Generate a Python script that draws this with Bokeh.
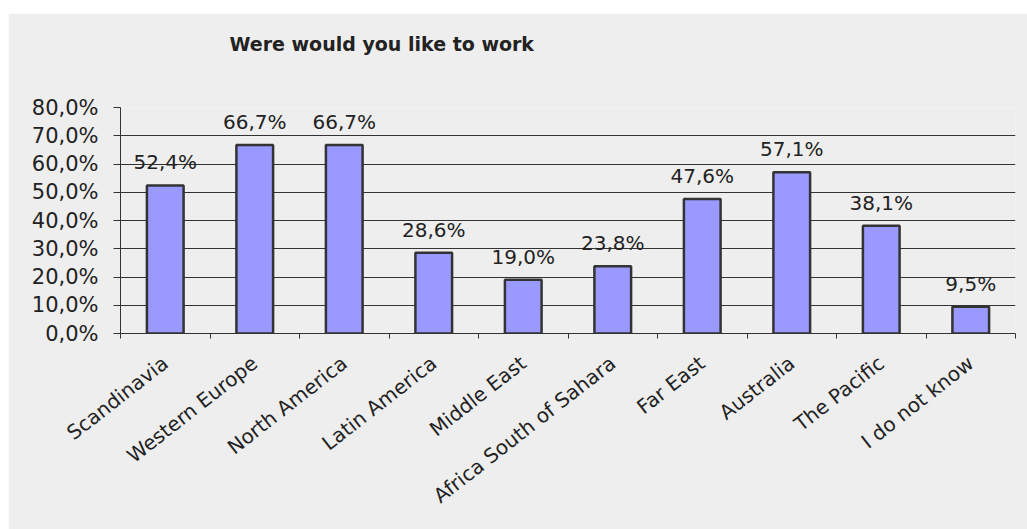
from bokeh.plotting import figure
from bokeh.models import Range1d, FixedTicker, ColumnDataSource, Spacer, Title
from bokeh.layouts import column, row
from bokeh.embed import file_html
from bokeh.resources import INLINE
from bokeh.core.properties import value

# ---- data ----
categories = ["Scandinavia", "Western Europe", "North America", "Latin America",
              "Middle East", "Africa South of Sahara", "Far East", "Australia",
              "The Pacific", "I do not know"]
shares = [52.4, 66.7, 66.7, 28.6, 19.0, 23.8, 47.6, 57.1, 38.1, 9.5]
y_ticks = [0, 10, 20, 30, 40, 50, 60, 70, 80]
y_tick_labels = ["0,0%", "10,0%", "20,0%", "30,0%", "40,0%", "50,0%", "60,0%", "70,0%", "80,0%"]
title_text = "Were would you like to work"

FONT = "DejaVu Sans"
DARK = "#333333"
TXT = "#222222"
BG = "#eeeeee"

xs = [i + 0.5 for i in range(len(categories))]
labels = [f"{v:.1f}".replace(".", ",") + "%" for v in shares]
src = ColumnDataSource(dict(x=xs, top=shares, lab=labels))

fig = figure(width=1019, height=516, output_backend="svg", toolbar_location=None,
             title=None,
             x_range=Range1d(0, len(categories)), y_range=Range1d(0, 80),
             min_border_left=112, min_border_right=12, min_border_top=94, min_border_bottom=196)
fig.background_fill_color = BG
fig.border_fill_color = BG
fig.outline_line_color = None

# spacing panel between the frame and the chart title
fig.add_layout(Title(text=" ", text_font_size="1px", standoff=50), "above")
fig.add_layout(Title(text=title_text, align="left", offset=109, standoff=0,
                     text_font=FONT, text_font_size="19px", text_font_style="bold",
                     text_color=TXT), "above")

fig.vbar(x="x", top="top", width=0.41, source=src, fill_color="#9999ff",
         line_color=DARK, line_width=2.5)
fig.text(x="x", y="top", text="lab", source=src, text_align="center",
         text_baseline="alphabetic", y_offset=-23, text_font=value(FONT),
         text_font_size="20px", text_color=TXT)

# y axis
fig.yaxis.ticker = FixedTicker(ticks=y_ticks)
fig.yaxis.major_label_overrides = {t: l for t, l in zip(y_ticks, y_tick_labels)}
fig.yaxis.major_label_text_font = FONT
fig.yaxis.major_label_text_font_size = "21px"
fig.yaxis.major_label_text_color = TXT
fig.yaxis.major_tick_out = 7
fig.yaxis.major_tick_in = 0
fig.yaxis.minor_tick_line_color = None
fig.yaxis.major_label_standoff = 15
fig.yaxis.axis_line_color = DARK
fig.yaxis.major_tick_line_color = DARK

fig.ygrid.ticker = FixedTicker(ticks=y_ticks)
fig.ygrid.grid_line_color = DARK
fig.ygrid.grid_line_width = 1
fig.xgrid.grid_line_color = None

# x axis: labels at category centres, tick marks at category boundaries
fig.xaxis.ticker = FixedTicker(ticks=xs, minor_ticks=list(range(len(categories) + 1)))
fig.xaxis.major_label_overrides = {x: c for x, c in zip(xs, categories)}
fig.xaxis.major_label_orientation = 0.663
fig.xaxis.major_label_text_font = FONT
fig.xaxis.major_label_text_font_size = "20px"
fig.xaxis.major_label_text_color = TXT
fig.xaxis.major_tick_line_color = None
fig.xaxis.major_tick_out = 0
fig.xaxis.major_tick_in = 0
fig.xaxis.minor_tick_line_color = DARK
fig.xaxis.minor_tick_out = 5
fig.xaxis.minor_tick_in = 0
fig.xaxis.major_label_standoff = 22
fig.xaxis.axis_line_color = DARK

p = column(Spacer(height=13), row(Spacer(width=8), fig))

open("out.html", "w").write(file_html(p, INLINE))
